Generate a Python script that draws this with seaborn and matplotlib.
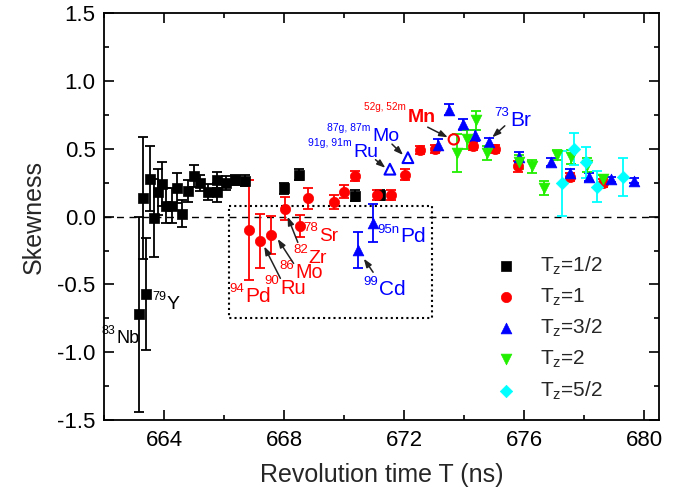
import numpy as np
import pandas as pd
import matplotlib
matplotlib.use("Agg")
import matplotlib.pyplot as plt
from matplotlib.ticker import MultipleLocator
from matplotlib.transforms import ScaledTranslation
import seaborn as sns

# ---------------- data ----------------
t_half = [663.18, 663.29, 663.40, 663.54, 663.65, 663.79, 663.94, 664.08, 664.26, 664.43,
          664.60, 664.79, 665.00, 665.20, 665.48, 665.76, 665.76, 666.07, 666.37, 666.71,
          668.01, 668.49, 670.35, 671.19]
s_half = [-0.72, 0.14, -0.57, 0.28, -0.01, 0.18, 0.24, 0.08, 0.08, 0.21,
          0.02, 0.19, 0.30, 0.25, 0.18, 0.27, 0.18, 0.25, 0.27, 0.265,
          0.21, 0.31, 0.155, 0.16]
e_half = [0.72, 0.45, 0.41, 0.24, 0.29, 0.17, 0.16, 0.13, 0.13, 0.11,
          0.10, 0.08, 0.08, 0.06, 0.06, 0.06, 0.07, 0.05, 0.04, 0.04,
          0.04, 0.04, 0.04, 0.04]

t_one = [666.82, 667.19, 667.58, 668.04, 668.52, 668.79, 669.66, 670.01, 670.35, 671.10,
         671.55, 672.02, 672.53, 673.02, 674.31, 675.02, 675.80, 677.54, 678.62]
s_one = [-0.10, -0.18, -0.135, 0.06, -0.07, 0.135, 0.11, 0.185, 0.30, 0.16,
         0.16, 0.31, 0.49, 0.50, 0.52, 0.50, 0.37, 0.29, 0.25]
e_one = [0.37, 0.20, 0.14, 0.085, 0.08, 0.075, 0.05, 0.05, 0.04, 0.04,
         0.04, 0.04, 0.03, 0.03, 0.03, 0.03, 0.04, 0.03, 0.03]

t_mn_open = [673.66]
s_mn_open = [0.57]

t_3half = [670.46, 670.96, 673.13, 673.50, 673.96, 674.35, 674.83, 675.83, 676.91, 677.54,
           678.17, 678.90, 679.67]
s_3half = [-0.245, -0.045, 0.53, 0.79, 0.68, 0.60, 0.55, 0.44, 0.40, 0.325,
           0.29, 0.275, 0.265]
e_3half = [0.135, 0.14, 0.04, 0.04, 0.04, 0.04, 0.03, 0.04, 0.03, 0.03,
           0.03, 0.02, 0.02]

t_3half_open = [671.53, 672.13]
s_3half_open = [0.35, 0.435]

t_two = [673.77, 674.10, 674.40, 674.75, 675.83, 676.28, 676.67, 677.11, 677.58, 678.09, 678.62]
s_two = [0.47, 0.57, 0.71, 0.47, 0.405, 0.37, 0.21, 0.455, 0.44, 0.38, 0.275]
e_two = [0.14, 0.07, 0.07, 0.05, 0.05, 0.05, 0.05, 0.04, 0.05, 0.05, 0.03]

t_5half = [677.28, 677.67, 678.06, 678.43, 679.29]
s_5half = [0.245, 0.50, 0.40, 0.22, 0.295]
e_5half = [0.24, 0.12, 0.115, 0.115, 0.14]

groups = [
    ("T$\\mathregular{_z}$=1/2", t_half, s_half, e_half, "#000000", "s", 50),
    ("T$\\mathregular{_z}$=1", t_one, s_one, e_one, "#ff0000", "o", 55),
    ("T$\\mathregular{_z}$=3/2", t_3half, s_3half, e_3half, "#0000ff", "^", 60),
    ("T$\\mathregular{_z}$=2", t_two, s_two, e_two, "#22ee00", "v", 60),
    ("T$\\mathregular{_z}$=5/2", t_5half, s_5half, e_5half, "#00ffff", "D", 40),
]

x_ticks = [664, 668, 672, 676, 680]
y_ticks = [-1.5, -1.0, -0.5, 0.0, 0.5, 1.0, 1.5]

# ---------------- style ----------------
sns.set_style("ticks")
plt.rcParams["font.family"] = ["Liberation Sans", "DejaVu Sans"]
plt.rcParams["mathtext.fontset"] = "custom"
plt.rcParams["mathtext.rm"] = "Liberation Sans"
plt.rcParams["mathtext.it"] = "Liberation Sans:italic"
plt.rcParams["mathtext.bf"] = "Liberation Sans:bold"
plt.rcParams["axes.unicode_minus"] = False

fig = plt.figure(figsize=(6.94, 4.97), dpi=100)
ax = fig.add_axes([104 / 694, 1 - 420 / 497, (659 - 104) / 694, (420 - 13.3) / 497])

ax.axhline(0, color="black", lw=1.0, ls=(0, (5, 4)), zorder=1)

handles = []
for label, t, s, e, c, m, sz in groups:
    ax.errorbar(t, s, yerr=e, fmt="none", ecolor=c, elinewidth=1.3,
                capsize=3.8, capthick=1.3, zorder=2)
    df = pd.DataFrame({"T": t, "S": s})
    sns.scatterplot(data=df, x="T", y="S", ax=ax, marker=m, s=sz, color=c,
                    edgecolor=c, linewidth=0.5, zorder=3, label=label, legend=False)
    handles.append(ax.collections[-1])

# open markers (isomeric states)
sns.scatterplot(x=t_mn_open, y=s_mn_open, ax=ax, marker="o", s=55, color="#ff0000",
                facecolor="none", edgecolor="#ff0000", linewidth=1.5, zorder=3, legend=False)
sns.scatterplot(x=t_3half_open, y=s_3half_open, ax=ax, marker="^", s=60, color="#0000ff",
                facecolor="none", edgecolor="#0000ff", linewidth=1.5, zorder=3, legend=False)

# dotted box
bx = [666.15, 672.94, 672.94, 666.15, 666.15]
by = [0.08, 0.08, -0.75, -0.75, 0.08]
ax.plot(bx, by, color="black", lw=1.5, ls=(0, (1, 1.5)), zorder=1)

# ---------------- annotations ----------------
def lab(x, y, sup, main, color, size, supsize=9.5, raise_pt=7.0, **kw):
    ax.text(x, y, main, color=color, fontsize=size, ha="left", va="baseline", **kw)
    tr = ax.transData + ScaledTranslation(-0.6 / 72, raise_pt / 72, fig.dpi_scale_trans)
    ax.text(x, y, sup, color=color, fontsize=supsize, ha="right", va="baseline",
            transform=tr)

lab(662.40, -0.93, "83", "Nb", "black", 13, supsize=9, raise_pt=6.5)
lab(664.09, -0.683, "79", "Y", "black", 14, supsize=9, raise_pt=7)
lab(666.71, -0.627, "94", "Pd", "#ff0000", 15)
lab(667.88, -0.57, "90", "Ru", "#ff0000", 14.5)
lab(668.38, -0.455, "86", "Mo", "#ff0000", 14.2)
lab(668.82, -0.34, "82", "Zr", "#ff0000", 14)
lab(669.16, -0.18, "78", "Sr", "#ff0000", 13.8)
lab(671.16, -0.577, "99", "Cd", "#0000ff", 15)
lab(671.88, -0.19, "95n", "Pd", "#0000ff", 15, raise_pt=6.5)
lab(675.53, 0.669, "73", "Br", "#0000ff", 15)

ax.text(672.13, 0.70, "Mn", color="#ff0000", fontsize=14, fontweight="bold",
        ha="left", va="baseline")
ax.text(672.05, 0.787, "52g, 52m", color="#ff0000", fontsize=7.2, ha="right", va="baseline")
ax.text(670.94, 0.558, "Mo", color="#0000ff", fontsize=14, ha="left", va="baseline")
ax.text(670.88, 0.634, "87g, 87m", color="#0000ff", fontsize=7.5, ha="right", va="baseline")
ax.text(670.30, 0.438, "Ru", color="#0000ff", fontsize=14, ha="left", va="baseline")
ax.text(670.27, 0.52, "91g, 91m", color="#0000ff", fontsize=7.5, ha="right", va="baseline")

arrows = [
    ((667.34, -0.22), (667.88, -0.455)),
    ((667.79, -0.165), (668.32, -0.345)),
    ((668.12, 0.0), (668.46, -0.19)),
    ((670.66, -0.31), (670.97, -0.41)),
    ((673.46, 0.585), (672.79, 0.66)),
    ((674.94, 0.585), (675.36, 0.67)),
    ((671.97, 0.455), (671.60, 0.535)),
    ((671.38, 0.36), (671.05, 0.42)),
]
for head, tail in arrows:
    ax.annotate("", xy=head, xytext=tail,
                arrowprops=dict(arrowstyle="-|>,head_length=0.5,head_width=0.18",
                                color="#222222", lw=1.1, shrinkA=0, shrinkB=0))

# ---------------- axes ----------------
ax.set_xlim(662.0, 680.5)
ax.set_ylim(-1.5, 1.5)
ax.set_xticks(x_ticks)
ax.set_yticks(y_ticks)
ax.set_yticklabels(["%.1f" % v for v in y_ticks])
ax.xaxis.set_minor_locator(MultipleLocator(2))
ax.yaxis.set_minor_locator(MultipleLocator(0.25))
ax.tick_params(which="both", direction="in", top=True, right=True, width=1.2,
               labelsize=16, colors="black")
ax.tick_params(which="major", length=7)
ax.tick_params(which="minor", length=3.5)
ax.tick_params(axis="x", pad=7)
ax.tick_params(axis="y", pad=6)
for sp in ax.spines.values():
    sp.set_linewidth(1.3)
    sp.set_visible(True)
    sp.set_color("black")

ax.set_xlabel("Revolution time T (ns)", fontsize=18, labelpad=9)
ax.set_ylabel("Skewness", fontsize=18, labelpad=8)

leg = ax.legend(handles=handles, labels=[g[0] for g in groups], loc="center left",
                bbox_to_anchor=(0.706, 0.226), frameon=False, fontsize=15,
                handlelength=1.0, handletextpad=1.1, labelspacing=0.45,
                borderpad=0, borderaxespad=0)

fig.savefig("out.png", dpi=100)
